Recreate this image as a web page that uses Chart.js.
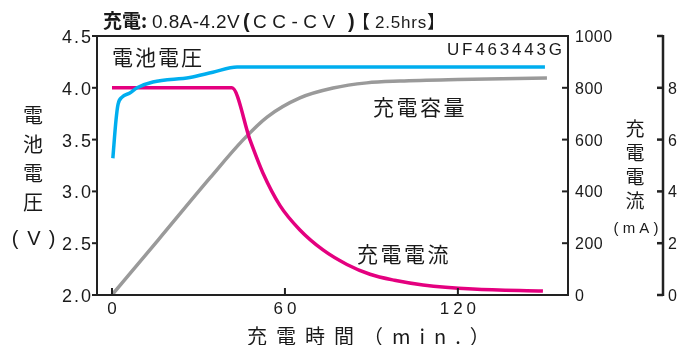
<!DOCTYPE html>
<html>
<head>
<meta charset="utf-8">
<script src="https://cdn.jsdelivr.net/npm/chart.js@4.4.0/dist/chart.umd.min.js"></script>
<style>
  html, body { margin: 0; padding: 0; background: #fff; }
</style>
</head>
<body>
<canvas id="chart" width="680" height="345"></canvas>
<script>
// charge time (min) and values
const voltTime = [0.3, 1.4, 2.1, 3.5, 6.2, 8.7, 14.2, 27, 35, 43.4, 150.2];
const voltValues = [3.32, 3.69, 3.84, 3.91, 3.95, 4.0, 4.056, 4.10, 4.15, 4.20, 4.20];

const currentTime = [0, 41.6, 47.9, 52.4, 58.3, 65.2, 73.2, 81.5, 89.5, 98, 107.9, 125.2, 149.5];
const currentValues = [800, 800, 598, 470, 345, 251, 174, 118, 80, 57, 39, 23, 15];

const capacityTime = [0, 16, 34, 45.4, 53.8, 65.2, 76.7, 88.4, 99.9, 120, 150.9];
const capacityValues = [0, 212, 452, 598, 687, 761, 799, 819, 826, 832, 838];

const xTicks = [0, 60, 120];
const voltTicks = [2.0, 2.5, 3.0, 3.5, 4.0, 4.5];
const currentTicks = [0, 200, 400, 600, 800, 1000];
const thirdTicks = [0, 2, 4, 6, 8, 10];
const thirdLabels = ["0", "2", "4", "6", "8", ""];

const CJK = '"Noto Sans CJK JP", sans-serif';
const LAT = '"Liberation Sans", Arial, sans-serif';

function toPoints(xs, ys) {
  return xs.map((x, i) => ({ x: x, y: ys[i] }));
}

function txt(ctx, s, x, y, font, ls, align, base) {
  ctx.font = font;
  ctx.letterSpacing = (ls || 0) + "px";
  ctx.textAlign = align || "left";
  ctx.textBaseline = base || "alphabetic";
  ctx.fillText(s, x, y);
}

const decor = {
  id: "decor",
  afterDraw(chart) {
    const { ctx, chartArea: a, scales } = chart;
    ctx.save();
    ctx.strokeStyle = "#222";
    ctx.fillStyle = "#1a1a1a";
    ctx.lineWidth = 2;
    ctx.strokeRect(a.left, a.top, a.right - a.left, a.bottom - a.top);

    // left axis: outward ticks
    const yL = scales.yL;
    yL.ticks.forEach((t, i) => {
      const p = yL.getPixelForTick(i);
      ctx.beginPath(); ctx.moveTo(a.left - 5, p); ctx.lineTo(a.left, p); ctx.stroke();
      txt(ctx, t.value.toFixed(1), 93, p + 7, "18px " + LAT, 2, "right");
    });

    // right axis: inward ticks
    const yR = scales.yR;
    yR.ticks.forEach((t, i) => {
      const p = yR.getPixelForTick(i);
      ctx.beginPath(); ctx.moveTo(a.right - 6, p); ctx.lineTo(a.right, p); ctx.stroke();
      txt(ctx, String(t.value), a.right + 7, p + 6, "16px " + LAT, 0.5, "left");
    });

    // x axis: inward ticks
    const xs = scales.x;
    xs.ticks.forEach((t, i) => {
      const p = xs.getPixelForTick(i);
      ctx.beginPath(); ctx.moveTo(p, a.bottom); ctx.lineTo(p, a.bottom - 7); ctx.stroke();
      txt(ctx, String(t.value), p + 2, 314, "17px " + LAT, 4, "center");
    });

    // third axis
    const y3 = scales.y3;
    const x3 = y3.left - 1;
    ctx.lineWidth = 2.5;
    ctx.beginPath(); ctx.moveTo(x3, y3.getPixelForValue(10) - 1); ctx.lineTo(x3, y3.getPixelForValue(0) + 1); ctx.stroke();
    y3.ticks.forEach((t, i) => {
      const p = y3.getPixelForTick(i);
      ctx.beginPath(); ctx.moveTo(x3 - 6, p); ctx.lineTo(x3, p); ctx.stroke();
      txt(ctx, thirdLabels[i], x3 + 5, p + 6, "16px " + LAT, 0, "left");
    });

    // title
    txt(ctx, "充電:", 103, 28, "bold 19px " + CJK, 0);
    txt(ctx, "0.8A-4.2V", 152, 28, "19px " + LAT, 0.4);
    txt(ctx, "(", 243, 28, "bold 20px " + LAT, 0);
    txt(ctx, "CC-CV", 253, 28, "19px " + LAT, 5.5);
    txt(ctx, ")", 348, 28, "bold 20px " + LAT, 0);
    txt(ctx, "【", 352, 28, "18px " + CJK, 0);
    txt(ctx, "2.5hrs", 375, 28, "17px " + LAT, 0.8);
    txt(ctx, "】", 427, 28, "18px " + CJK, 0);

    // labels in the plot
    txt(ctx, "電池電圧", 112, 57, "21px " + CJK, 2, "left", "middle");
    txt(ctx, "UF463443G", 447, 55, "17px " + LAT, 2.8);
    txt(ctx, "充電容量", 373, 107, "21px " + CJK, 2.5, "left", "middle");
    txt(ctx, "充電電流", 357, 254, "21px " + CJK, 2.5, "left", "middle");

    // left axis title
    const leftChars = ["電", "池", "電", "圧"];
    const leftY = [115, 144, 173, 202];
    leftChars.forEach((c, i) => txt(ctx, c, 33, leftY[i], "20px " + CJK, 0, "center", "middle"));
    txt(ctx, "(", 15, 245, "20px " + LAT, 0, "center");
    txt(ctx, "V", 34, 245, "20px " + LAT, 0, "center");
    txt(ctx, ")", 52, 245, "20px " + LAT, 0, "center");

    // right axis title
    const rightChars = ["充", "電", "電", "流"];
    const rightY = [129, 153, 177, 201];
    rightChars.forEach((c, i) => txt(ctx, c, 635, rightY[i], "19px " + CJK, 0, "center", "middle"));
    txt(ctx, "( m A )", 636, 233, "15px " + LAT, 0, "center");

    // x axis title
    txt(ctx, "充電時間（min.）", 247, 336, "20px " + CJK, 9, "left", "middle");

    ctx.restore();
  }
};

const ctx = document.getElementById("chart").getContext("2d");
new Chart(ctx, {
  type: "line",
  data: {
    datasets: [
      {
        label: "電池電圧",
        data: toPoints(voltTime, voltValues),
        yAxisID: "yL",
        borderColor: "#00aeef",
        borderWidth: 3.5,
        pointRadius: 0,
        cubicInterpolationMode: "monotone",
        fill: false
      },
      {
        label: "充電電流",
        data: toPoints(currentTime, currentValues),
        yAxisID: "yR",
        borderColor: "#e4007f",
        borderWidth: 3.5,
        pointRadius: 0,
        cubicInterpolationMode: "monotone",
        fill: false
      },
      {
        label: "充電容量",
        data: toPoints(capacityTime, capacityValues),
        yAxisID: "yR",
        borderColor: "#9a9a9a",
        borderWidth: 3.5,
        pointRadius: 0,
        cubicInterpolationMode: "monotone",
        fill: false
      }
    ]
  },
  options: {
    responsive: false,
    animation: false,
    devicePixelRatio: 1,
    layout: { padding: { top: 36, left: 0, right: 0, bottom: 0 } },
    plugins: { legend: { display: false }, tooltip: { enabled: false } },
    scales: {
      x: {
        type: "linear",
        position: "bottom",
        min: -5.2,
        max: 158.2,
        afterBuildTicks: s => { s.ticks = xTicks.map(v => ({ value: v })); },
        afterFit: s => { s.height = 50; },
        grid: { display: false },
        border: { display: false },
        ticks: { display: false }
      },
      yL: {
        type: "linear",
        position: "left",
        min: 2,
        max: 4.5,
        afterBuildTicks: s => { s.ticks = voltTicks.map(v => ({ value: v })); },
        afterFit: s => { s.width = 97; },
        grid: { display: false },
        border: { display: false },
        ticks: { display: false }
      },
      yR: {
        type: "linear",
        position: "right",
        weight: 0,
        min: 0,
        max: 1000,
        afterBuildTicks: s => { s.ticks = currentTicks.map(v => ({ value: v })); },
        afterFit: s => { s.width = 96; },
        grid: { display: false },
        border: { display: false },
        ticks: { display: false }
      },
      y3: {
        type: "linear",
        position: "right",
        weight: 1,
        min: 0,
        max: 10,
        afterBuildTicks: s => { s.ticks = thirdTicks.map(v => ({ value: v })); },
        afterFit: s => { s.width = 16; },
        grid: { display: false },
        border: { display: false },
        ticks: { display: false }
      }
    }
  },
  plugins: [decor]
});
</script>
</body>
</html>
